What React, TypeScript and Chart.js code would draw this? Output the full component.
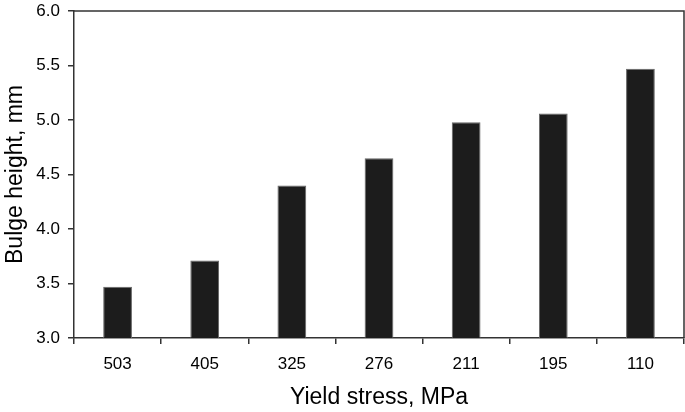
import React, { useEffect, useRef } from "react";
import { Chart, registerables } from "chart.js";

Chart.register(...registerables);

const categories = ["503", "405", "325", "276", "211", "195", "110"];
const bulgeHeights = [3.47, 3.71, 4.4, 4.65, 4.98, 5.06, 5.47];
const yMin = 3.0;
const yMax = 6.0;
const yStep = 0.5;

const FONT = "'Liberation Sans', Arial, sans-serif";
const AXIS = "#333333";

const framePlugin = {
  id: "frame",
  afterDraw(chart: any) {
    const { ctx, chartArea } = chart;
    ctx.save();
    ctx.strokeStyle = AXIS;
    ctx.lineWidth = 1.5;
    ctx.beginPath();
    ctx.moveTo(chartArea.left, chartArea.top);
    ctx.lineTo(chartArea.right, chartArea.top);
    ctx.lineTo(chartArea.right, chartArea.bottom);
    ctx.stroke();
    ctx.restore();
  },
};

export default function App() {
  const ref = useRef<HTMLCanvasElement>(null);
  useEffect(() => {
    if (!ref.current) return;
    const chart = new Chart(ref.current, {
      type: "bar",
      data: {
        labels: categories,
        datasets: [
          {
            data: bulgeHeights,
            backgroundColor: "#1c1c1c",
            borderColor: "#666666",
            borderWidth: 1,
            barPercentage: 0.33,
            categoryPercentage: 1,
          },
        ],
      },
      options: {
        animation: false,
        responsive: false,
        maintainAspectRatio: false,
        layout: { padding: { top: 11, right: 1, left: 0, bottom: 0 } },
        plugins: { legend: { display: false }, tooltip: { enabled: false } },
        scales: {
          x: {
            afterFit: (s: any) => {
              s.height = 74;
              s.paddingLeft = 0;
              s.paddingRight = 0;
            },
            grid: {
              display: true,
              drawOnChartArea: false,
              drawTicks: true,
              tickLength: 6,
              color: AXIS,
              lineWidth: 1.5,
            },
            border: { display: true, color: AXIS, width: 1.5 },
            ticks: {
              color: "#000",
              font: { family: FONT, size: 17 },
              padding: 10,
              maxRotation: 0,
            },
            title: {
              display: true,
              text: "Yield stress, MPa",
              color: "#000",
              font: { family: FONT, size: 23 },
              padding: { top: 0, bottom: 1 },
            },
          },
          y: {
            min: yMin,
            max: yMax,
            afterFit: (s: any) => {
              s.width = 74;
              s.paddingTop = 0;
              s.paddingBottom = 0;
            },
            grid: {
              display: true,
              drawOnChartArea: false,
              drawTicks: true,
              tickLength: 6,
              color: AXIS,
              lineWidth: 1.5,
            },
            border: { display: true, color: AXIS, width: 1.5 },
            ticks: {
              stepSize: yStep,
              color: "#000",
              font: { family: FONT, size: 17 },
              padding: 8,
              callback: (v: any) => Number(v).toFixed(1),
            },
            title: {
              display: true,
              text: "Bulge height, mm",
              color: "#000",
              font: { family: FONT, size: 23 },
              padding: { top: 2, bottom: 0 },
            },
          },
        },
      },
      plugins: [framePlugin],
    });
    return () => chart.destroy();
  }, []);
  return (
    <div style={{ position: "absolute", left: 0, top: 0, width: 685, height: 412, background: "#fff" }}>
      <canvas ref={ref} width={685} height={412} style={{ width: 685, height: 412, display: "block" }} />
    </div>
  );
}
